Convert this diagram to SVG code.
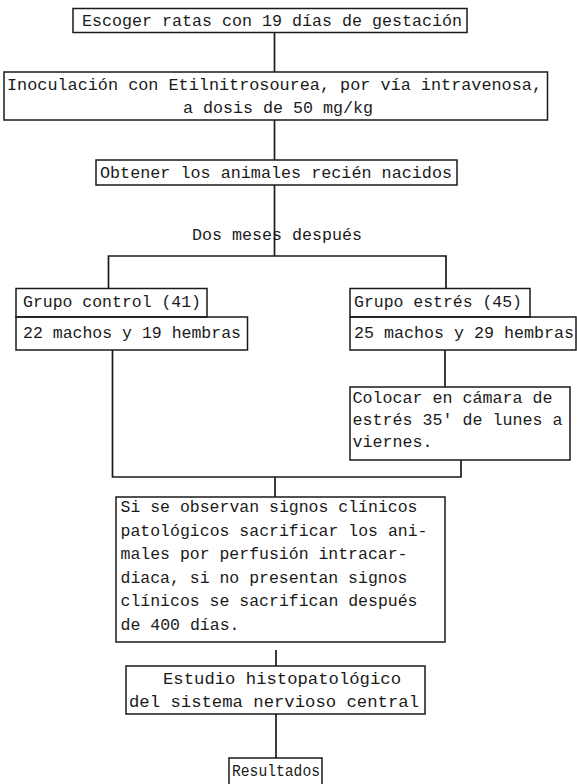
<svg xmlns="http://www.w3.org/2000/svg" width="577" height="784" viewBox="0 0 577 784">
<style>
  .box { fill: none; stroke: #1a1a1a; stroke-width: 1.5; }
  .conn { fill: none; stroke: #1a1a1a; stroke-width: 1.7; }
  text { font-family: "Liberation Mono", "DejaVu Sans Mono", monospace; font-size: 16.5px; fill: #1a1a1a; }
</style>
<rect width="577" height="784" fill="#ffffff"/>
<g id="connectors">
  <path class="conn" d="M274.5 32.5 V72"/>
  <path class="conn" d="M274.5 120 V160"/>
  <path class="conn" d="M274.5 185 V256"/>
  <path class="conn" d="M108.5 288.5 V256 H446 V288.5"/>
  <path class="conn" d="M112.5 350 V477 H461 V460"/>
  <path class="conn" d="M445 350 V387"/>
  <path class="conn" d="M275 477 V497"/>
  <path class="conn" d="M276 650 V666"/>
  <path class="conn" d="M276 714 V758"/>
</g>
<g id="n1">
  <rect class="box" x="73" y="8.5" width="394" height="24"/>
  <text x="82" y="26" textLength="380" lengthAdjust="spacingAndGlyphs">Escoger ratas con 19 días de gestación</text>
</g>
<g id="n2">
  <rect class="box" x="4" y="72" width="543.5" height="48"/>
  <text x="7" y="89.5" textLength="535" lengthAdjust="spacingAndGlyphs">Inoculación con Etilnitrosourea, por vía intravenosa,</text>
  <text x="183" y="112.5" textLength="190" lengthAdjust="spacingAndGlyphs">a dosis de 50 mg/kg</text>
</g>
<g id="n3">
  <rect class="box" x="96" y="160" width="361" height="25"/>
  <text x="100" y="177.5" textLength="352" lengthAdjust="spacingAndGlyphs">Obtener los animales recién nacidos</text>
</g>
<g id="label-dos-meses">
  <text x="192" y="240" textLength="170" lengthAdjust="spacingAndGlyphs">Dos meses después</text>
</g>
<g id="n4">
  <rect class="box" x="16" y="288.5" width="191" height="28.5"/>
  <text x="23" y="306.5" textLength="178" lengthAdjust="spacingAndGlyphs">Grupo control (41)</text>
</g>
<g id="n5">
  <rect class="box" x="16" y="317" width="231.5" height="33"/>
  <text x="23" y="338" textLength="218" lengthAdjust="spacingAndGlyphs">22 machos y 19 hembras</text>
</g>
<g id="n6">
  <rect class="box" x="350" y="288.5" width="180" height="28.5"/>
  <text x="354" y="306.5" textLength="168" lengthAdjust="spacingAndGlyphs">Grupo estrés (45)</text>
</g>
<g id="n7">
  <rect class="box" x="350" y="317" width="226" height="33"/>
  <text x="354" y="338" textLength="220" lengthAdjust="spacingAndGlyphs">25 machos y 29 hembras</text>
</g>
<g id="n8">
  <rect class="box" x="350" y="387" width="220" height="73"/>
  <text x="352.5" y="402.5" textLength="200" lengthAdjust="spacingAndGlyphs">Colocar en cámara de</text>
  <text x="352.5" y="424.5" textLength="210" lengthAdjust="spacingAndGlyphs">estrés 35' de lunes a</text>
  <text x="352.5" y="446.5" textLength="80" lengthAdjust="spacingAndGlyphs">viernes.</text>
</g>
<g id="n9">
  <rect class="box" x="116" y="497" width="329" height="145"/>
  <text x="120.5" y="512" textLength="297" lengthAdjust="spacingAndGlyphs">Si se observan signos clínicos</text>
  <text x="120.5" y="535.5" textLength="307" lengthAdjust="spacingAndGlyphs">patológicos sacrificar los ani-</text>
  <text x="120.5" y="559" textLength="287" lengthAdjust="spacingAndGlyphs">males por perfusión intracar-</text>
  <text x="120.5" y="582.5" textLength="287" lengthAdjust="spacingAndGlyphs">diaca, si no presentan signos</text>
  <text x="120.5" y="606" textLength="297" lengthAdjust="spacingAndGlyphs">clínicos se sacrifican después</text>
  <text x="120.5" y="629.5" textLength="119" lengthAdjust="spacingAndGlyphs">de 400 días.</text>
</g>
<g id="n10">
  <rect class="box" x="126" y="666" width="299" height="48"/>
  <text x="163" y="683.5" textLength="238" lengthAdjust="spacingAndGlyphs">Estudio histopatológico</text>
  <text x="129" y="707" textLength="290" lengthAdjust="spacingAndGlyphs">del sistema nervioso central</text>
</g>
<g id="n11">
  <rect class="box" x="229" y="758" width="93" height="32"/>
  <text x="232" y="776" textLength="88" lengthAdjust="spacingAndGlyphs">Resultados</text>
</g>
</svg>
